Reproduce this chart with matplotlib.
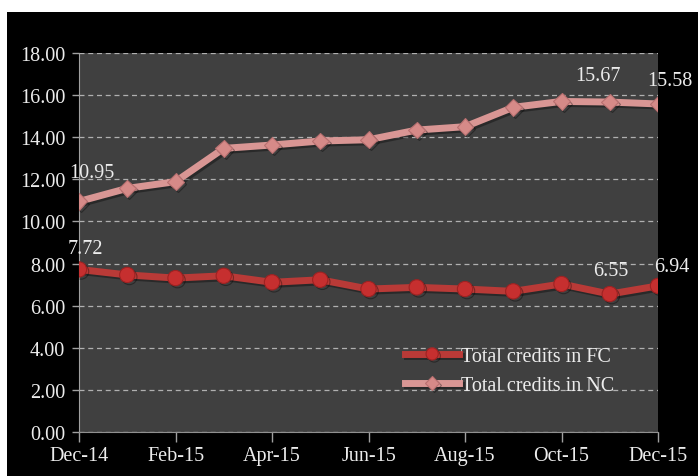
import matplotlib
matplotlib.use("Agg")
import matplotlib.pyplot as plt
from matplotlib.patches import Rectangle
import matplotlib.patheffects as pe

months = ["Dec-14", "Jan-15", "Feb-15", "Mar-15", "Apr-15", "May-15", "Jun-15",
          "Jul-15", "Aug-15", "Sep-15", "Oct-15", "Nov-15", "Dec-15"]
fc = [7.72, 7.46, 7.31, 7.42, 7.11, 7.23, 6.79, 6.87, 6.79, 6.68, 7.03, 6.55, 6.94]
nc = [10.95, 11.57, 11.89, 13.47, 13.63, 13.82, 13.88, 14.34, 14.50, 15.42, 15.70, 15.67, 15.58]
yticks = [0, 2, 4, 6, 8, 10, 12, 14, 16, 18]
fc_label = "Total credits in FC"
nc_label = "Total credits in NC"

plt.rcParams['font.family'] = ['Liberation Serif', 'DejaVu Serif']
txt = '#ececec'

fig = plt.figure(figsize=(6.98, 4.77), dpi=100, facecolor='white')
fig.patches.append(Rectangle((7/698, 0), 1 - 7/698, (477-13)/477, transform=fig.transFigure,
                             facecolor='black', edgecolor='none', zorder=-5))
ax = fig.add_axes([79/698, (477-433)/477, (658-79)/698, (433-54)/477])
ax.set_facecolor('#404040')

x = list(range(len(months)))
shadow = [pe.SimpleLineShadow(offset=(1.5, -1.5), alpha=0.35), pe.Normal()]
ax.plot(x, nc, color='#d99694', lw=5, marker='D', markersize=8.5,
        markerfacecolor='#d68a88', markeredgecolor='#b87070', markeredgewidth=0.8,
        label=nc_label, zorder=3, path_effects=shadow, solid_joinstyle='round')
ax.plot(x, fc, color='#b93a37', lw=5, marker='o', markersize=11,
        markerfacecolor='#c62f2f', markeredgecolor='#9e2222', markeredgewidth=0.8,
        label=fc_label, zorder=4, path_effects=shadow, solid_joinstyle='round')

ax.set_xlim(0, 12)
ax.set_ylim(0, 18)
ax.set_yticks(yticks)
ax.set_yticklabels([f"{v:.2f}" for v in yticks])
ax.set_xticks(x[::2])
ax.set_xticklabels(months[::2])
ax.tick_params(axis='both', colors='#a0a0a0', labelcolor=txt, labelsize=14.5, length=5, width=1)
ax.tick_params(axis='y', pad=5)
ax.tick_params(axis='x', length=7, pad=3)
ax.yaxis.grid(True, color='#b0b0b0', linestyle=(0, (4, 3)), lw=0.9)
ax.set_axisbelow(True)
for s in ['top', 'right']:
    ax.spines[s].set_visible(False)
ax.spines['left'].set_color('#a0a0a0')
ax.spines['bottom'].set_color('#909090')

# data labels
fs = 14.5
def lab(xi, yv, dx, dy):
    ax.annotate(f"{yv:.2f}", (xi, yv), xytext=(dx, dy), textcoords='offset points',
                color=txt, fontsize=fs, ha='center', va='center', annotation_clip=False)

lab(0, nc[0], 9.5, 20.5)
lab(0, fc[0], 4.3, 15.4)
lab(11, nc[11], -8.6, 19)
lab(12, nc[12], 8.6, 16.7)
lab(11, fc[11], 0.7, 16.8)
lab(12, fc[12], 9.9, 14.3)

h, l = ax.get_legend_handles_labels()
leg = ax.legend(h[::-1], l[::-1], loc='center left', bbox_to_anchor=(0.563, 0.161),
                frameon=False, fontsize=14.5, handlelength=2.7, handletextpad=0.1,
                labelspacing=0.5, borderaxespad=0, borderpad=0, markerscale=0.8)
for t in leg.get_texts():
    t.set_color(txt)

fig.savefig("out.png", dpi=100, facecolor=fig.get_facecolor())
